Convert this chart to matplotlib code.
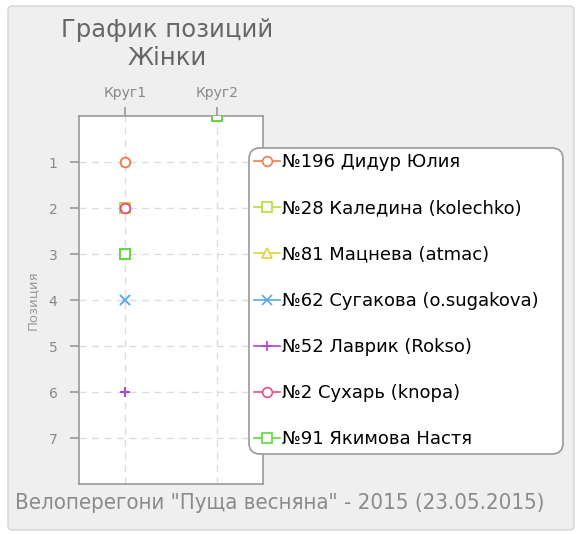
import numpy as np
import matplotlib.pyplot as plt
from matplotlib.lines import Line2D
from matplotlib.patches import FancyBboxPatch

plt.rcParams['font.family'] = ['DejaVu Sans']

# --------------------------------------------------------------
# Data
# --------------------------------------------------------------
rounds = ['Круг1', 'Круг2']
riders = ['№196 Дидур Юлия', '№28 Каледина (kolechko)', '№81 Мацнева (atmac)',
          '№62 Сугакова (o.sugakova)', '№52 Лаврик (Rokso)', '№2 Сухарь (knopa)',
          '№91 Якимова Настя']
round1 = [1, 2, np.nan, 4, 6, 2, 3]
round2 = [np.nan, np.nan, np.nan, np.nan, np.nan, np.nan, 0]
markers = ['o', 's', '^', 'x', '+', 'o', 's']
colors = ['#ef7d4d', '#b7dc3a', '#e0d23a', '#5aa8ea', '#b23fdc', '#e84f7e', '#5cd93a']
positions = [1, 2, 3, 4, 5, 6, 7]

W, H = 578, 534
fig = plt.figure(figsize=(W / 100, H / 100), dpi=100)
fig.patch.set_facecolor('white')

# outer rounded panel
panel = FancyBboxPatch((8 / W, 4 / H), 566 / W, 524 / H,
                       boxstyle='round,pad=0,rounding_size=0.008',
                       transform=fig.transFigure, facecolor='#efefef',
                       edgecolor='#d4d4d4', linewidth=1.0, zorder=-10)
fig.patches.append(panel)

ax = fig.add_axes([79 / W, 50 / H, 184 / W, 368 / H])
ax.set_facecolor('white')

for i, name in enumerate(riders):
    ys = [round1[i], round2[i]]
    ax.plot([0, 1], ys, ls='none', marker=markers[i], color=colors[i],
            mfc='white', mec=colors[i], ms=7, mew=1.4, zorder=3)

ax.set_xlim(-0.5, 1.5)
ax.set_ylim(8, 0)
ax.set_xticks(range(len(rounds)))
ax.set_xticklabels(rounds)
ax.set_yticks(positions)
ax.xaxis.tick_top()
ax.tick_params(axis='both', colors='#999999', labelcolor='#888888', labelsize=10,
               length=6.5, width=1.2, direction='out')
ax.tick_params(axis='x', pad=5)
ax.tick_params(axis='y', pad=9)
ax.grid(True, ls=(0, (5, 4)), color='#dddddd', lw=1.0)
for s in ax.spines.values():
    s.set_color('#999999')
    s.set_linewidth(1.2)
ax.set_ylabel('Позиция', color='#999999', fontsize=9.5, labelpad=7)

handles = [Line2D([], [], color=colors[i], marker=markers[i], mfc='white',
                  mec=colors[i], ms=7, mew=1.2, lw=1.2) for i in range(len(riders))]
leg = fig.legend(handles, riders, loc='upper left', mode='expand',
                 bbox_to_anchor=(249 / W, 1 - 148 / H - 0.01, 314 / W, 0.01),
                 bbox_transform=fig.transFigure,
                 borderaxespad=0, frameon=True, fontsize=13, handlelength=1.4,
                 handletextpad=0.1, labelspacing=1.56, borderpad=0.3)
frame = leg.get_frame()
frame.set_edgecolor('#999999')
frame.set_facecolor('white')
frame.set_linewidth(1.2)
frame.set_alpha(1)
frame.set_boxstyle('round,pad=0,rounding_size=0.6')

fig.text(167 / W, 1 - 44 / H, 'График позиций\nЖінки', ha='center', va='center',
         fontsize=17.5, color='#666666', linespacing=1.25)

fig.text(15 / W, 1 - 503 / H, 'Велоперегони "Пуща весняна" - 2015 (23.05.2015)',
         ha='left', va='center', fontsize=15.9, color='#8a8a8a', fontstretch='condensed')

fig.savefig('out.png', dpi=100)
